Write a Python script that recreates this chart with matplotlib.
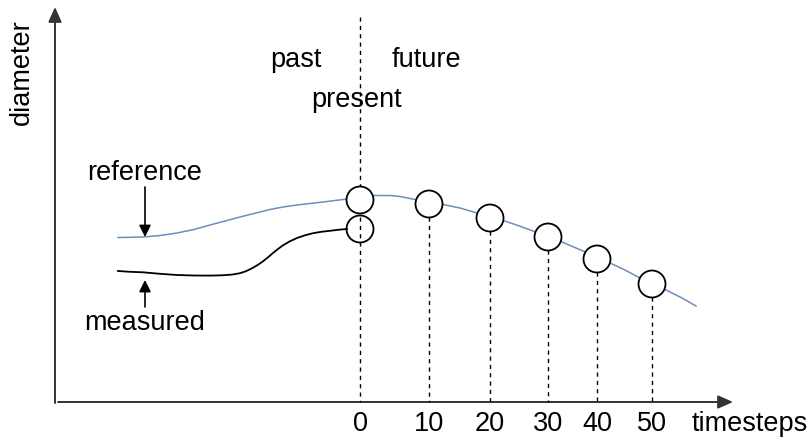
import matplotlib.pyplot as plt
from matplotlib.patches import Circle

plt.rcParams['font.family'] = ['Liberation Sans', 'DejaVu Sans']

# schematic drawn in pixel-like coordinates (y grows downwards)
steps = [0, 10, 20, 30, 40, 50]
step_x = [360, 429, 490, 548, 597, 652]
pred_y = [200, 204, 218, 237, 259, 284]
meas_now_y = 229

# reference curve (blue)
ref_x = [118, 130, 143, 160, 177, 194, 210, 225, 240, 250, 260, 270, 283, 297, 310, 323,
         335, 347, 360, 375, 390, 400, 415, 429, 443, 460, 477, 490, 503, 518, 533, 548,
         562, 583, 597, 610, 625, 638, 652, 667, 682, 696]
ref_y = [237.5, 237.3, 237, 235.5, 233, 229.5, 225, 221, 217, 214.5, 212, 209.5, 207, 205, 203.5, 202,
         200.5, 199, 197.5, 195.5, 195.5, 196.5, 199.5, 202.5, 204.5, 208, 213, 217, 220.5, 225.5, 231, 236.5,
         242, 251, 257, 263, 270, 277, 283.5, 290.5, 298, 306]

# measured curve (black)
meas_x = [118, 130, 143, 160, 177, 194, 210, 222, 232, 240, 246, 252, 258, 263, 268, 273, 278,
          283, 290, 297, 305, 313, 322, 330, 339, 347]
meas_y = [271, 271.8, 272.3, 273.8, 275, 275.5, 275.6, 275.3, 274.6, 273.2, 271.2, 268.3, 264.8, 261.3,
          257.3, 253, 249, 245.3, 241.2, 238, 235.3, 233.2, 231.7, 230.8, 229.7, 229]

blue = '#6c8ebf'
axc = '#333333'
fs = 19.5

fig = plt.figure(figsize=(8.11, 4.40), dpi=100)
ax = fig.add_axes([0, 0, 1, 1])
ax.set_xlim(0, 811)
ax.set_ylim(440, 0)
ax.axis('off')

# axes arrows
head = '-|>,head_length=0.9,head_width=0.4'
ax.annotate('', xy=(55, 7), xytext=(55, 403),
            arrowprops=dict(arrowstyle=head, color=axc, lw=1.4, shrinkA=0, shrinkB=0))
ax.annotate('', xy=(733, 402), xytext=(58, 402),
            arrowprops=dict(arrowstyle=head, color=axc, lw=1.4, shrinkA=0, shrinkB=0))

# curves
ax.plot(ref_x, ref_y, color=blue, lw=1.1, zorder=2)
ax.plot(meas_x, meas_y, color='black', lw=1.3, zorder=2)

# present line
ax.plot([360, 360], [17, 402], color='black', lw=1.0, ls=(0, (3, 3)), zorder=3)

# future markers
for i, (x, y) in enumerate(zip(step_x, pred_y)):
    ax.add_patch(Circle((x, y), 13.5, facecolor='white', edgecolor='black', lw=1.3, zorder=4))
    if i > 0:
        ax.plot([x, x], [y + 13.5, 402], color='black', lw=1.0, ls=(0, (3, 3)), zorder=3)
    ax.text(x, 424, str(steps[i]), ha='center', va='center', fontsize=fs)
ax.add_patch(Circle((360, meas_now_y), 13.5, facecolor='none', edgecolor='black', lw=1.3, zorder=4))

# labels
ax.text(22, 72, 'diameter', rotation=90, ha='center', va='center', fontsize=fs)
ax.text(750, 424, 'timesteps', ha='center', va='center', fontsize=fs)
ax.text(296, 60, 'past', ha='center', va='center', fontsize=fs)
ax.text(426, 60, 'future', ha='center', va='center', fontsize=fs)
ax.text(357, 100, 'present', ha='center', va='center', fontsize=fs)
ax.text(145, 173, 'reference', ha='center', va='center', fontsize=fs)
ax.text(145, 323, 'measured', ha='center', va='center', fontsize=fs)

small = '-|>,head_length=0.7,head_width=0.35'
ax.annotate('', xy=(145, 237), xytext=(145, 187),
            arrowprops=dict(arrowstyle=small, color='black', lw=1.2, shrinkA=0, shrinkB=0))
ax.annotate('', xy=(145, 280), xytext=(145, 307),
            arrowprops=dict(arrowstyle=small, color='black', lw=1.2, shrinkA=0, shrinkB=0))

plt.savefig('out.png', dpi=100)
